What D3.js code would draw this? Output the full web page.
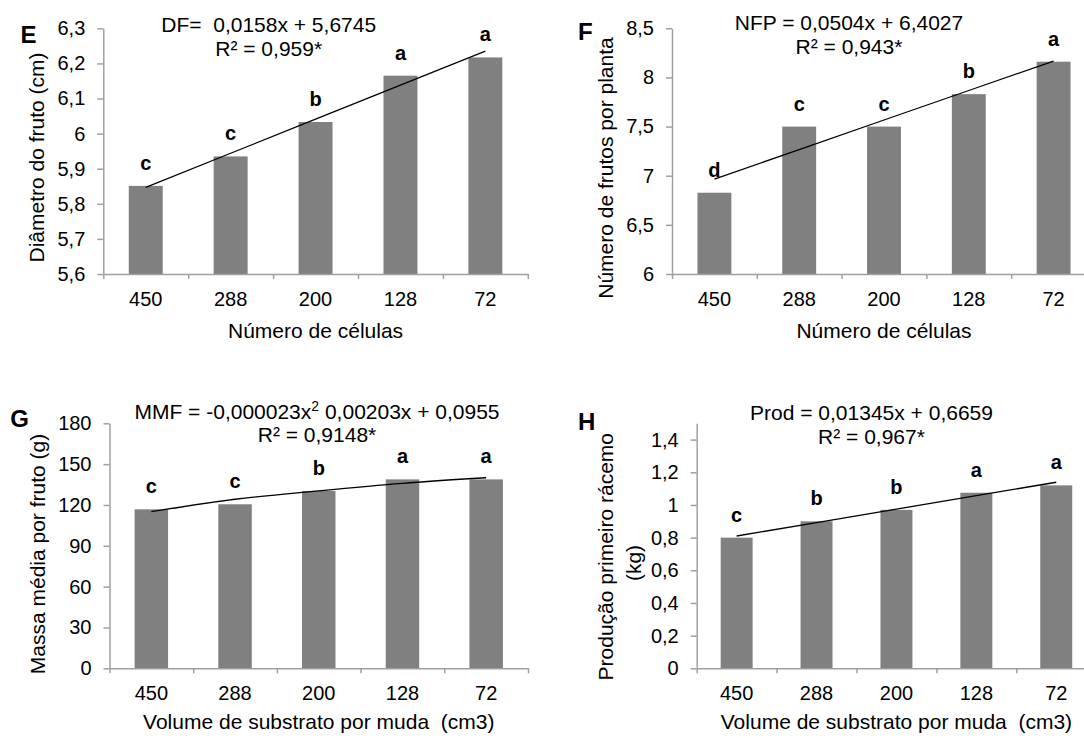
<!DOCTYPE html>
<html>
<head>
<meta charset="utf-8">
<script src="https://cdn.jsdelivr.net/npm/d3@7"></script>
<style>
  body { margin: 0; background: #fff; }
  text { font-family: "Liberation Sans", Arial, sans-serif; fill: #000; }
</style>
</head>
<body>
<svg id="chart" width="1084" height="738"></svg>
<script>
// categorias (numero de celulas da bandeja)
var categories = ["450", "288", "200", "128", "72"];

// E - diametro do fruto (cm)
var diametro = [5.851, 5.935, 6.033, 6.165, 6.217];
var diametroLetras = ["c", "c", "b", "a", "a"];
var diametroTend = [5.847, 5.944, 6.041, 6.138, 6.235];
var diametroTicks = [5.6, 5.7, 5.8, 5.9, 6, 6.1, 6.2, 6.3];

// F - numero de frutos por planta
var frutos = [6.827, 7.50, 7.50, 7.83, 8.16];
var frutosLetras = ["d", "c", "c", "b", "a"];
var frutosTend = [6.966, 7.266, 7.567, 7.867, 8.167];
var frutosTicks = [6, 6.5, 7, 7.5, 8, 8.5];

// G - massa media por fruto (g)
var massa = [116.8, 120.5, 130.3, 138.8, 138.8];
var massaLetras = ["c", "c", "b", "a", "a"];
var massaTend = [115.1, 124.2, 130.4, 135.9, 140.0];
var massaTicks = [0, 30, 60, 90, 120, 150, 180];

// H - producao primeiro racemo (kg)
var producao = [0.80, 0.90, 0.97, 1.075, 1.12];
var producaoLetras = ["c", "b", "b", "a", "a"];
var producaoTend = [0.810, 0.892, 0.975, 1.057, 1.139];
var producaoTicks = [0, 0.2, 0.4, 0.6, 0.8, 1, 1.2, 1.4];

var svg = d3.select("#chart");
var fmt = function (v) { return String(+v.toFixed(2)).replace(".", ","); };

var panels = [
  { tag: "E", tagX: 20.5, tagY: 43,
    values: diametro, letras: diametroLetras, tend: diametroTend, curved: false,
    ticks: diametroTicks, domain: [5.6, 6.3],
    x0: 103.3, step: 84.9, yTop: 28.3, yBot: 274,
    yTitle: ["Diâmetro do fruto (cm)"], yTitleX: [37], yTitleY: [157.5],
    xTitle: "Número de células", xTitleY: 338,
    eq: "DF=  0,0158x + 5,6745", r2: "R² = 0,959*", eqX: 268.7, eqY: 32, r2Y: 55.5 },
  { tag: "F", tagX: 578, tagY: 40,
    values: frutos, letras: frutosLetras, tend: frutosTend, curved: false,
    ticks: frutosTicks, domain: [6, 8.5],
    x0: 672, step: 84.8, yTop: 28.3, yBot: 274,
    yTitle: ["Número de frutos por planta"], yTitleX: [606], yTitleY: [168],
    xTitle: "Número de células", xTitleY: 338,
    eq: "NFP = 0,0504x + 6,4027", r2: "R² = 0,943*", eqX: 849, eqY: 29.5, r2Y: 54 },
  { tag: "G", tagX: 10.3, tagY: 427,
    values: massa, letras: massaLetras, tend: massaTend, curved: true,
    ticks: massaTicks, domain: [0, 180],
    x0: 109.5, step: 83.7, yTop: 423.3, yBot: 668.3,
    yTitle: ["Massa média por fruto (g)"], yTitleX: [38], yTitleY: [554],
    xTitle: "Volume de substrato por muda  (cm3)", xTitleY: 729,
    eq: null, r2: "R² = 0,9148*", eqX: 317, eqY: 418.5, r2Y: 441.5 },
  { tag: "H", tagX: 578, tagY: 430,
    values: producao, letras: producaoLetras, tend: producaoTend, curved: false,
    ticks: producaoTicks, domain: [0, 1.5],
    x0: 696.7, step: 79.9, yTop: 423.3, yBot: 668.3,
    yTitle: ["Produção primeiro rácemo", "(kg)"], yTitleX: [606, 633.5], yTitleY: [556.7, 563],
    xTitle: "Volume de substrato por muda  (cm3)", xTitleY: 729,
    eq: "Prod = 0,01345x + 0,6659", r2: "R² = 0,967*", eqX: 871.5, eqY: 420, r2Y: 444 }
];

panels.forEach(function (p) {
  var g = svg.append("g");
  var x1 = p.x0 + p.step * categories.length;

  var y = d3.scaleLinear().domain(p.domain).range([p.yBot, p.yTop]);
  var x = d3.scaleBand().domain(categories).range([p.x0, x1])
    .paddingInner(0.6).paddingOuter(0.3);
  var bx = d3.scaleLinear().domain([0, categories.length]).range([p.x0, x1]);

  // bars
  g.selectAll(".bar")
    .data(p.values)
    .enter()
    .append("rect")
    .attr("class", "bar")
    .attr("x", function (d, i) { return x(categories[i]); })
    .attr("y", function (d) { return y(d); })
    .attr("width", x.bandwidth())
    .attr("height", function (d) { return y(p.domain[0]) - y(d); })
    .attr("fill", "#808080");

  // y axis
  var ya = g.append("g")
    .attr("transform", "translate(" + p.x0 + ",0)")
    .call(d3.axisLeft(y).tickValues(p.ticks).tickSize(6).tickSizeOuter(0)
      .tickPadding(12).tickFormat(fmt));

  // x axis (ticks between categories)
  var xa = g.append("g")
    .attr("transform", "translate(0," + p.yBot + ")")
    .call(d3.axisBottom(bx).tickValues(d3.range(categories.length + 1))
      .tickSize(5).tickSizeOuter(0).tickFormat(""));

  var xl = g.append("g")
    .attr("transform", "translate(0," + p.yBot + ")")
    .call(d3.axisBottom(x).tickSize(0).tickPadding(18));
  xl.select(".domain").remove();

  [ya, xa, xl].forEach(function (a) {
    a.selectAll("path, line").attr("stroke", "#a0a0a0").attr("stroke-width", 1.5);
    a.selectAll("text").attr("font-size", 20)
      .attr("font-family", "Liberation Sans, Arial, sans-serif").attr("fill", "#000");
  });

  // trend line
  var line = d3.line()
    .x(function (d, i) { return x(categories[i]) + x.bandwidth() / 2; })
    .y(function (d) { return y(d); })
    .curve(p.curved ? d3.curveMonotoneX : d3.curveLinear);
  g.append("path")
    .datum(p.tend)
    .attr("d", line)
    .attr("fill", "none")
    .attr("stroke", "#000")
    .attr("stroke-width", 1.3);

  // letters above bars
  g.selectAll(".letra")
    .data(p.letras)
    .enter()
    .append("text")
    .attr("class", "letra")
    .attr("x", function (d, i) { return x(categories[i]) + x.bandwidth() / 2; })
    .attr("y", function (d, i) { return y(p.values[i]) - 16; })
    .attr("text-anchor", "middle")
    .attr("font-size", 20)
    .attr("font-weight", "bold")
    .text(function (d) { return d; });

  // panel tag
  g.append("text")
    .attr("x", p.tagX).attr("y", p.tagY)
    .attr("font-size", 24).attr("font-weight", "bold")
    .text(p.tag);

  // y title
  p.yTitle.forEach(function (t, k) {
    g.append("text")
      .attr("transform", "translate(" + p.yTitleX[k] + "," + p.yTitleY[k] + ") rotate(-90)")
      .attr("text-anchor", "middle")
      .attr("dy", "0.35em")
      .attr("font-size", 21)
      .text(t);
  });

  // x title
  g.append("text")
    .attr("x", (p.x0 + x1) / 2).attr("y", p.xTitleY)
    .attr("text-anchor", "middle")
    .attr("font-size", 21)
    .style("white-space", "pre")
    .text(p.xTitle);

  // equation
  var eq = g.append("text")
    .attr("x", p.eqX).attr("y", p.eqY)
    .attr("text-anchor", "middle")
    .attr("font-size", 21)
    .style("white-space", "pre");
  if (p.eq) {
    eq.text(p.eq);
  } else {
    eq.append("tspan").text("MMF = -0,000023x");
    eq.append("tspan").attr("font-size", 14).attr("dy", -8).text("2");
    eq.append("tspan").attr("dy", 8).text(" 0,00203x + 0,0955");
  }
  g.append("text")
    .attr("x", p.eqX).attr("y", p.r2Y)
    .attr("text-anchor", "middle")
    .attr("font-size", 21)
    .text(p.r2);
});
</script>
</body>
</html>
